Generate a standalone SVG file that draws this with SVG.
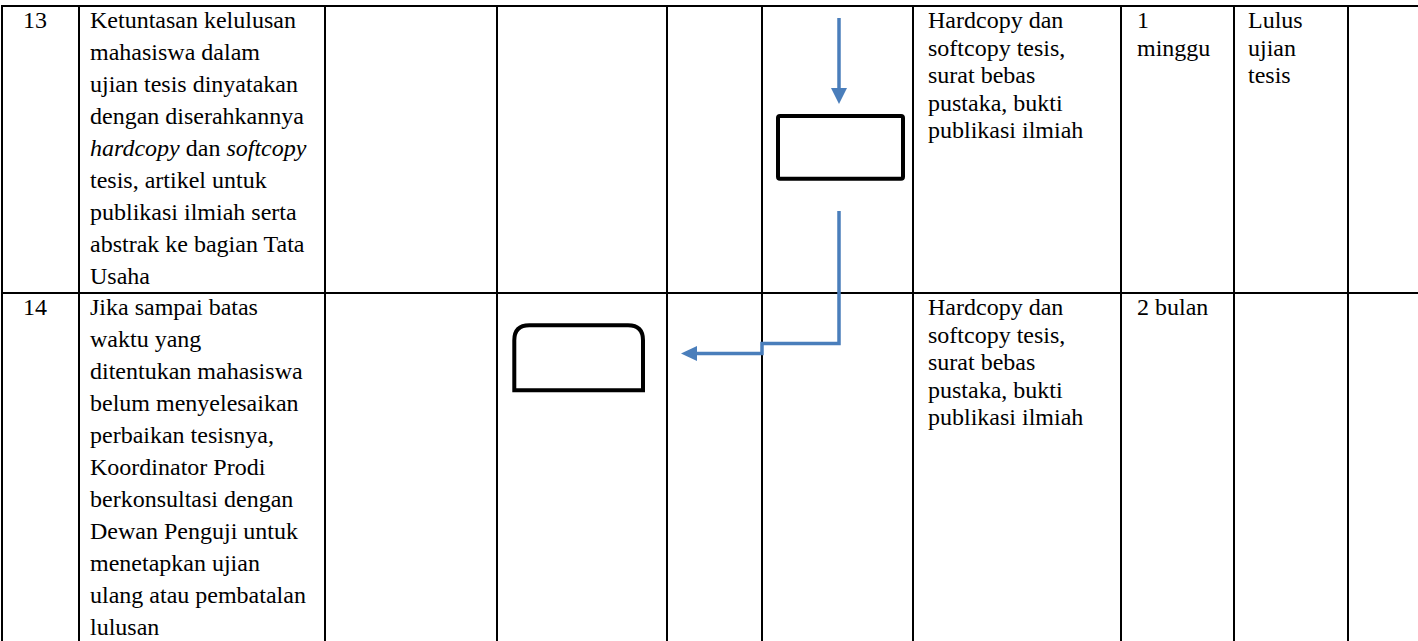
<svg xmlns="http://www.w3.org/2000/svg" width="1418" height="641" viewBox="0 0 1418 641">
<style>
.grid{stroke:#000;stroke-width:2;fill:none}
.t{font-family:"Liberation Serif","Times New Roman",serif;font-size:24px;fill:#000}
.i{font-style:italic}
.box{fill:#fff;stroke:#000;stroke-width:4}
.conn{fill:none;stroke:#4a7ebb;stroke-width:3.5}
.head{fill:#4a7ebb;stroke:none}
</style>
<rect width="1418" height="641" fill="#fff"/>
<g id="table">
<line class="grid" x1="1" y1="6" x2="1418" y2="6"/>
<line class="grid" x1="1" y1="293" x2="1418" y2="293"/>
<line class="grid" x1="2" y1="5" x2="2" y2="641"/>
<line class="grid" x1="79" y1="5" x2="79" y2="641"/>
<line class="grid" x1="325" y1="5" x2="325" y2="641"/>
<line class="grid" x1="497" y1="5" x2="497" y2="641"/>
<line class="grid" x1="667" y1="5" x2="667" y2="641"/>
<line class="grid" x1="762" y1="5" x2="762" y2="641"/>
<line class="grid" x1="913" y1="5" x2="913" y2="641"/>
<line class="grid" x1="1121" y1="5" x2="1121" y2="641"/>
<line class="grid" x1="1234" y1="5" x2="1234" y2="641"/>
<line class="grid" x1="1348" y1="5" x2="1348" y2="641"/>
</g>
<g id="row13-text">
<text class="t" x="23" y="28">13</text>
<text class="t" x="90" y="28">Ketuntasan kelulusan</text>
<text class="t" x="90" y="60">mahasiswa dalam</text>
<text class="t" x="90" y="92">ujian tesis dinyatakan</text>
<text class="t" x="90" y="124">dengan diserahkannya</text>
<text class="t" x="90" y="156"><tspan class="i">hardcopy</tspan> dan <tspan class="i">softcopy</tspan></text>
<text class="t" x="90" y="188">tesis, artikel untuk</text>
<text class="t" x="90" y="220">publikasi ilmiah serta</text>
<text class="t" x="90" y="252">abstrak ke bagian Tata</text>
<text class="t" x="90" y="284">Usaha</text>
<text class="t" x="928" y="28">Hardcopy dan</text>
<text class="t" x="928" y="55.5">softcopy tesis,</text>
<text class="t" x="928" y="83">surat bebas</text>
<text class="t" x="928" y="110.5">pustaka, bukti</text>
<text class="t" x="928" y="138">publikasi ilmiah</text>
<text class="t" x="1137" y="28">1</text>
<text class="t" x="1137" y="55.5">minggu</text>
<text class="t" x="1248" y="28">Lulus</text>
<text class="t" x="1248" y="55.5">ujian</text>
<text class="t" x="1248" y="83">tesis</text>
</g>
<g id="row14-text">
<text class="t" x="23" y="315">14</text>
<text class="t" x="90" y="315">Jika sampai batas</text>
<text class="t" x="90" y="347">waktu yang</text>
<text class="t" x="90" y="379">ditentukan mahasiswa</text>
<text class="t" x="90" y="411">belum menyelesaikan</text>
<text class="t" x="90" y="443">perbaikan tesisnya,</text>
<text class="t" x="90" y="475">Koordinator Prodi</text>
<text class="t" x="90" y="507">berkonsultasi dengan</text>
<text class="t" x="90" y="539">Dewan Penguji untuk</text>
<text class="t" x="90" y="571">menetapkan ujian</text>
<text class="t" x="90" y="603">ulang atau pembatalan</text>
<text class="t" x="90" y="635">lulusan</text>
<text class="t" x="928" y="315">Hardcopy dan</text>
<text class="t" x="928" y="342.5">softcopy tesis,</text>
<text class="t" x="928" y="370">surat bebas</text>
<text class="t" x="928" y="397.5">pustaka, bukti</text>
<text class="t" x="928" y="425">publikasi ilmiah</text>
<text class="t" x="1137" y="315">2 bulan</text>
</g>
<g id="node-process">
<rect class="box" x="778" y="116" width="125" height="62.7" rx="2"/>
</g>
<g id="node-rounded">
<path class="box" d="M514.3 390.3 V340.3 Q514.3 325.3 529.3 325.3 H628 Q643 325.3 643 340.3 V390.3 Z"/>
</g>
<g id="connectors">
<line class="conn" x1="839" y1="18" x2="839" y2="90"/>
<polygon class="head" points="831,88 847,88 839,104"/>
<path class="conn" d="M839 211 V343.5 H762 V353.5 H695"/>
<polygon class="head" points="681,353.5 697,346 697,361"/>
</g>
</svg>
